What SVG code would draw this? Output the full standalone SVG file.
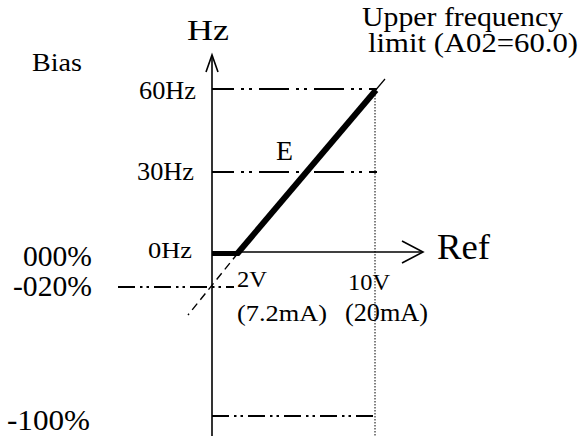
<svg xmlns="http://www.w3.org/2000/svg" width="584" height="437" viewBox="0 0 584 437">
<style>
text{font-family:'Liberation Serif','Times New Roman',Times,serif;fill:#000}
.ax{stroke:#000;stroke-width:1.6;fill:none}
.dd{stroke:#000;stroke-width:2;fill:none;stroke-dasharray:30,7,3,5,3,7;stroke-dashoffset:8}
.dd2{stroke:#000;stroke-width:2;fill:none;stroke-dasharray:17,5,2.5,4,2.5,5}
.dot{stroke:#000;stroke-width:1;fill:none;stroke-dasharray:1.5,1.5}
</style>
<rect width="584" height="437" fill="#fff"/>
<g id="guides">
<line class="dd" x1="212" y1="89" x2="377" y2="89"/>
<line class="dd" x1="212" y1="172" x2="377" y2="172"/>
<line class="dd2" x1="118" y1="287" x2="234" y2="287"/>
<line class="dd2" x1="212" y1="416" x2="378" y2="416"/>
<line class="dot" x1="375" y1="89" x2="375" y2="437"/>
</g>
<g id="axes">
<line class="ax" x1="212" y1="56" x2="212" y2="436"/>
<polyline class="ax" points="206,72 212,55 218,72"/>
<line class="ax" x1="212" y1="252" x2="422" y2="252"/>
<polyline class="ax" points="402,241 423,252 402,263"/>
</g>
<g id="curve">
<line x1="212" y1="253.5" x2="239" y2="253.5" stroke="#000" stroke-width="5"/>
<line x1="237" y1="254" x2="376" y2="90" stroke="#000" stroke-width="6"/>
<line x1="374" y1="92" x2="385" y2="79" stroke="#000" stroke-width="1.2"/>
<line x1="238" y1="253" x2="188" y2="315" stroke="#000" stroke-width="1.4" stroke-dasharray="8,5"/>
</g>
<g id="labels" font-family="'Liberation Serif','Times New Roman',Times,serif">
<text x="187" y="40" font-size="30" textLength="42" lengthAdjust="spacingAndGlyphs">Hz</text>
<text x="362" y="26" font-size="28" textLength="201" lengthAdjust="spacingAndGlyphs">Upper frequency</text>
<text x="368" y="52" font-size="28" textLength="210" lengthAdjust="spacingAndGlyphs">limit (A02=60.0)</text>
<text x="32" y="71" font-size="26" textLength="50" lengthAdjust="spacingAndGlyphs">Bias</text>
<text x="139" y="99" font-size="25" textLength="57" lengthAdjust="spacingAndGlyphs">60Hz</text>
<text x="137" y="180" font-size="25" textLength="57" lengthAdjust="spacingAndGlyphs">30Hz</text>
<text x="276" y="160" font-size="27" textLength="17" lengthAdjust="spacingAndGlyphs">E</text>
<text x="148" y="258" font-size="24" textLength="44" lengthAdjust="spacingAndGlyphs">0Hz</text>
<text x="23" y="266" font-size="30" textLength="69" lengthAdjust="spacingAndGlyphs">000%</text>
<text x="13" y="296" font-size="30" textLength="79" lengthAdjust="spacingAndGlyphs">-020%</text>
<text x="7" y="430" font-size="30" textLength="83" lengthAdjust="spacingAndGlyphs">-100%</text>
<text x="437" y="259" font-size="36" textLength="53" lengthAdjust="spacingAndGlyphs">Ref</text>
<text x="237" y="287" font-size="24" textLength="30" lengthAdjust="spacingAndGlyphs">2V</text>
<text x="237" y="321" font-size="24" textLength="90" lengthAdjust="spacingAndGlyphs">(7.2mA)</text>
<text x="348" y="290" font-size="24" textLength="42" lengthAdjust="spacingAndGlyphs">10V</text>
<text x="345" y="321" font-size="25" textLength="83" lengthAdjust="spacingAndGlyphs">(20mA)</text>
</g>
</svg>
